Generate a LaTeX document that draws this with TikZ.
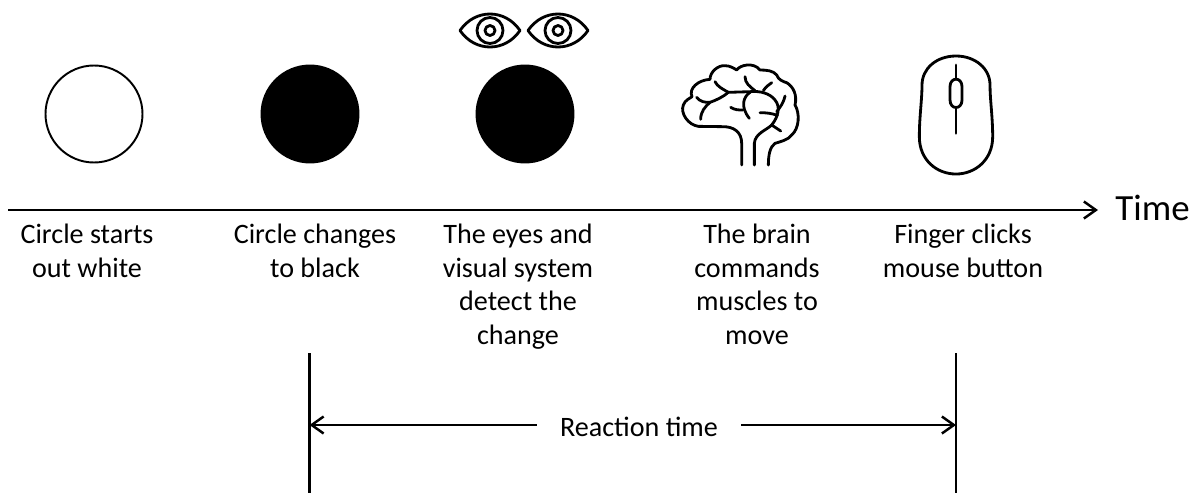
\documentclass[tikz,border=0pt]{standalone}
\usepackage{fontspec}
\setmainfont{Carlito}
\usepackage{xcolor}
\usetikzlibrary{arrows.meta,positioning}

\begin{document}
\begin{tikzpicture}[
  font=\fontsize{16}{19}\selectfont,
  disc/.style={draw, circle, line width=1.1pt, minimum size=1.94cm, inner sep=0pt},
  lbl/.style={align=center, anchor=north, inner sep=0pt},
  icon/.style={line width=1.6pt, line cap=round, line join=round},
  arrow/.style={-{Straight Barb[length=2.4mm,width=3.4mm]}, line width=1.4pt},
  tickline/.style={line width=1.2pt},
  eyeicon/.pic={
    \draw[icon] (-.6,0) .. controls (-.3,.44) and (.3,.44) .. (.6,0)
      .. controls (.3,-.44) and (-.3,-.44) .. cycle;
    \draw[icon] (0,0) circle (.26);
    \draw[icon] (0,0) circle (.1);
  }
]
\useasboundingbox (0,0) rectangle (23.96,9.86);

% ---- Circles ----
\node[disc] (white) at (1.88,7.58) {};
\node[disc, fill=black] (black) at (6.2,7.58) {};
\node[disc, fill=black] (seen) at (10.5,7.58) {};

% ---- Eyes ----
\pic at (9.8,9.25) {eyeicon};
\pic at (11.16,9.25) {eyeicon};

% ---- Brain ----
\begin{scope}[shift={(13.2,8.86)}, x=0.00667cm, y=-0.00667cm]
\draw[icon] (245,345) -- (245,280) .. controls (245,245) and (220,230) .. (190,230)
  -- (115,229) .. controls (85,225) and (60,190) .. (70,165)
  .. controls (75,150) and (90,145) .. (96,140)
  .. controls (85,115) and (115,90) .. (150,88)
  .. controls (150,65) and (175,45) .. (195,47)
  .. controls (210,47) and (222,55) .. (230,60)
  .. controls (240,45) and (280,35) .. (300,60)
  .. controls (320,60) and (340,62) .. (350,75)
  .. controls (355,90) and (370,95) .. (380,98)
  .. controls (400,110) and (412,135) .. (405,165)
  .. controls (420,190) and (418,235) .. (395,255)
  .. controls (385,270) and (360,275) .. (345,280)
  .. controls (330,290) and (325,315) .. (325,345);
\draw[icon] (283,345) -- (283,280) .. controls (285,250) and (320,240) .. (335,225)
  .. controls (355,200) and (362,170) .. (345,150)
  .. controls (330,130) and (300,122) .. (270,125) -- (205,127)
  .. controls (190,140) and (170,150) .. (150,157)
  .. controls (135,170) and (122,185) .. (122,208);
\draw[icon] (165,95) .. controls (172,110) and (190,118) .. (205,127);
\draw[icon] (110,142) .. controls (120,155) and (135,158) .. (150,157);
\draw[icon] (255,80) .. controls (255,100) and (270,110) .. (285,122);
\draw[icon] (335,98) .. controls (325,105) and (318,110) .. (310,122);
\draw[icon] (270,127) .. controls (250,140) and (240,170) .. (268,205);
\draw[icon] (212,172) .. controls (225,180) and (235,180) .. (248,180);
\draw[icon] (375,138) .. controls (370,160) and (360,172) .. (350,185);
\draw[icon] (300,188) .. controls (320,188) and (335,190) .. (352,196);
\draw[icon] (335,225) -- (362,243);
\end{scope}

% ---- Mouse ----
\begin{scope}[shift={(18,9.06)}, x=0.00667cm, y=-0.00667cm]
\draw[icon] (168,48) .. controls (225,48) and (270,85) .. (270,135)
  .. controls (270,180) and (278,230) .. (278,290)
  .. controls (278,360) and (225,402) .. (168,402)
  .. controls (110,402) and (58,360) .. (58,290)
  .. controls (58,230) and (66,180) .. (66,135)
  .. controls (66,85) and (110,48) .. (168,48) -- cycle;
\draw[icon] (168,75) -- (168,280);
\draw[icon, fill=white] (150,140) .. controls (150,110) and (186,110) .. (186,140)
  -- (186,180) .. controls (186,210) and (150,210) .. (150,180) -- cycle;
\end{scope}

% ---- Time axis ----
\coordinate (start) at (0.16,5.66);
\node[anchor=west, inner sep=0pt, font=\fontsize{21}{25}\selectfont] (time) at (22.3,5.7) {Time};
\draw[arrow] (start) -- (21.96,5.66);

% ---- Captions ----
\node[lbl] (c1) at (1.74,5.38) {Circle starts\\out white};
\node[lbl] (c2) at (6.3,5.38) {Circle changes\\to black};
\node[lbl] (c3) at (10.36,5.38) {The eyes and\\visual system\\detect the\\change};
\node[lbl] (c4) at (15.14,5.38) {The brain\\commands\\muscles to\\move};
\node[lbl] (c5) at (19.26,5.38) {Finger clicks\\mouse button};

% ---- Reaction time ----
\coordinate (ltop) at (6.19,2.8);
\coordinate (lbot) at (6.19,0);
\coordinate (rtop) at (19.12,2.8);
\coordinate (rbot) at (19.12,0);
\draw[tickline] (ltop) -- (lbot);
\draw[tickline] (rtop) -- (rbot);
\coordinate (lmid) at (6.19,1.36);
\coordinate (rmid) at (19.12,1.36);
\node[inner xsep=0.46cm, inner ysep=2pt] (react) at (12.78,1.32) {Reaction time};
\draw[arrow] (react.west |- lmid) -- (lmid);
\draw[arrow] (react.east |- rmid) -- (rmid);
\end{tikzpicture}
\end{document}
